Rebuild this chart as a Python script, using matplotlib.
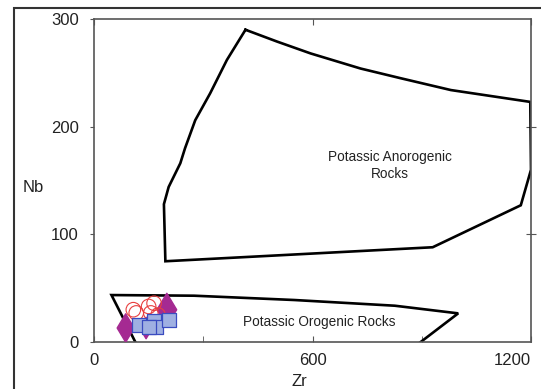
import matplotlib
matplotlib.use("Agg")
import matplotlib.pyplot as plt
from matplotlib.patches import Rectangle

# Field boundaries (Zr, Nb)
anorogenic_zr = [416, 503, 595, 732, 842, 980, 1198, 1200, 1172, 930, 196, 192, 205, 237, 250, 278, 319, 365, 416]
anorogenic_nb = [290, 279, 268, 254, 245, 234, 223, 160, 127, 88, 75, 128, 144, 166, 180, 206, 231, 262, 290]
orogenic_zr = [124, 48, 275, 550, 826, 1000, 870]
orogenic_nb = [-7, 43.6, 43, 39, 33.7, 26.6, -7]

# Samples
diamond_zr = [87, 200, 143]
diamond_nb = [13, 30, 13]
circle_zr = [108, 116, 156, 165, 150, 176]
circle_nb = [30, 27, 27, 36, 33, 25]
square_zr = [124, 165, 171, 206, 150]
square_nb = [16, 19.5, 13.6, 20.5, 14]

x_ticks = [0, 600, 1200]
x_minor = [300, 900]
y_ticks = [0, 100, 200, 300]

fam = ['Liberation Sans', 'DejaVu Sans']

fig = plt.figure(figsize=(5.41, 3.89), dpi=100)
fig.patches.append(Rectangle((14/541, -0.2), 1.2, 0.979 + 0.2, transform=fig.transFigure,
                             fill=False, edgecolor='#333333', linewidth=1.5))
ax = fig.add_axes([94/541, 47/389, 437/541, 323/389])
ax.set_xlim(0, 1200)
ax.set_ylim(0, 300)

ax.plot(anorogenic_zr, anorogenic_nb, color='black', lw=1.9, solid_joinstyle='miter')
ax.plot(orogenic_zr, orogenic_nb, color='black', lw=1.9, solid_joinstyle='miter')

ax.scatter(diamond_zr, diamond_nb, marker='d', s=[210, 280, 120], color='#a52a92',
           edgecolors='#a52a92', zorder=3)
ax.scatter(circle_zr, circle_nb, marker='o', s=110, facecolors='none', edgecolors='#e84040',
           linewidths=0.8, zorder=4)
ax.scatter(square_zr, square_nb, marker='s', s=88, color='#9fb0e2', edgecolors='#3a4cc0',
           linewidths=0.9, zorder=5)

ax.text(812, 164, 'Potassic Anorogenic\nRocks', ha='center', va='center', fontsize=9.8,
        family=fam, color='#222222', linespacing=1.35)
ax.text(618, 19, 'Potassic Orogenic Rocks', ha='center', va='center', fontsize=9.8,
        family=fam, color='#222222')

for s in ax.spines.values():
    s.set_color('#555555')
    s.set_linewidth(1.2)

ax.set_xticks(x_ticks)
ax.set_xticks(x_minor, minor=True)
ax.set_yticks(y_ticks)
ax.tick_params(axis='x', which='both', direction='in', length=4, color='#555555')
ax.tick_params(axis='x', which='major', top=True, labelsize=12, pad=8, labelcolor='#222222')
ax.tick_params(axis='y', which='major', direction='out', length=3, labelsize=12, pad=8,
               color='#555555', labelcolor='#222222')
for lab in ax.get_xticklabels() + ax.get_yticklabels():
    lab.set_family(fam)
xl = ax.get_xticklabels()
xl[-1].set_horizontalalignment('right')
xl[-1].set_x(1200)

sec = ax.secondary_yaxis('right')
sec.set_yticks([100, 200])
sec.tick_params(direction='inout', length=7, labelright=False, color='#555555')
sec.spines['right'].set_visible(False)

fig.text(33/541, 1 - 187/389, 'Nb', ha='center', va='center', fontsize=12, family=fam, color='#222222')
fig.text(299/541, 1 - 382/389, 'Zr', ha='center', va='center', fontsize=12, family=fam, color='#222222')

fig.savefig('out.png', dpi=100)
